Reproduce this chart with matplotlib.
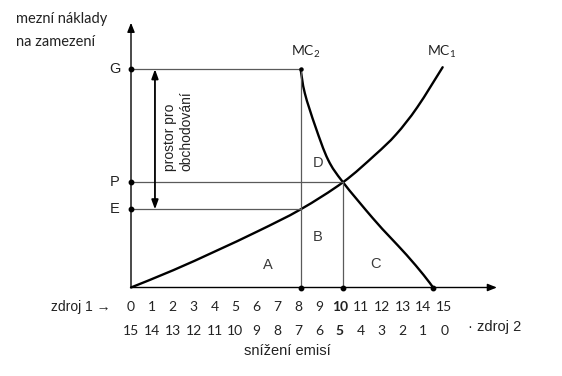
import matplotlib
matplotlib.use("Agg")
import matplotlib.pyplot as plt
from matplotlib.path import Path
from matplotlib.patches import PathPatch

# ---- data ----
mc1_x = [0, 2, 4, 6, 8, 10, 11.5, 12.5, 13.5, 14.7]
mc1_y = [0, 0.8, 1.68, 2.6, 3.6, 4.85, 6.1, 7.05, 8.3, 10.15]
mc2_x = [8, 8.2, 8.7, 9.3, 10, 11.4, 12.2, 13.0, 13.8, 14.25]
mc2_y = [10.06, 8.95, 7.41, 5.88, 4.85, 3.2, 2.34, 1.5, 0.58, 0]
level_names = ["G", "P", "E"]
level_values = [10.06, 4.85, 3.6]
q_split = 8      # emissions reduction of source 1 with equal caps
q_eq = 10        # equilibrium reduction of source 1
src1_ticks = list(range(0, 16))
src2_ticks = list(range(15, -1, -1))
area_labels = ["A", "B", "C", "D"]

plt.rcParams['mathtext.fontset'] = 'custom'
plt.rcParams['mathtext.rm'] = 'Lato'
plt.rcParams['mathtext.it'] = 'Lato'


def smooth_path(xs, ys):
    """Catmull-Rom through the read points, drawn as cubic Bezier segments."""
    pts = list(zip(xs, ys))
    verts = [pts[0]]
    codes = [Path.MOVETO]
    n = len(pts)
    for i in range(n - 1):
        p0 = pts[i - 1] if i > 0 else pts[i]
        p1 = pts[i]
        p2 = pts[i + 1]
        p3 = pts[i + 2] if i + 2 < n else pts[i + 1]
        c1 = (p1[0] + (p2[0] - p0[0]) / 6, p1[1] + (p2[1] - p0[1]) / 6)
        c2 = (p2[0] - (p3[0] - p1[0]) / 6, p2[1] - (p3[1] - p1[1]) / 6)
        verts += [c1, c2, p2]
        codes += [Path.CURVE4] * 3
    return Path(verts, codes)


fig = plt.figure(figsize=(5.62, 3.76), dpi=100)
ax = fig.add_axes([0, 0, 1, 1])
ax.set_xlim(-131 / 21.2, (562 - 131) / 21.2)
ax.set_ylim((287.5 - 376) / 21.7, 287.5 / 21.7)
ax.axis("off")

G, P, E = level_values
grey = "#5a5a5a"
txt = "#222222"
arial = "Liberation Sans"
calib = "Lato"

# axes with arrows
ax.annotate("", xy=(0, 12.2), xytext=(0, 0),
            arrowprops=dict(arrowstyle="-|>,head_length=0.55,head_width=0.22",
                            color="black", lw=1.0, shrinkA=0, shrinkB=0))
ax.annotate("", xy=(17.26, 0), xytext=(0, 0),
            arrowprops=dict(arrowstyle="-|>,head_length=0.55,head_width=0.22",
                            color="black", lw=1.0, shrinkA=0, shrinkB=0))

# guide lines
ax.plot([0, q_split], [G, G], color=grey, lw=0.9)
ax.plot([0, q_eq], [P, P], color=grey, lw=0.9)
ax.plot([0, q_split], [E, E], color=grey, lw=0.9)
ax.plot([q_split, q_split], [0, G], color=grey, lw=0.9)
ax.plot([q_eq, q_eq], [0, P], color=grey, lw=0.9)

# curves
for xs, ys in [(mc1_x, mc1_y), (mc2_x, mc2_y)]:
    ax.add_patch(PathPatch(smooth_path(xs, ys), facecolor="none",
                           edgecolor="black", lw=1.7, capstyle="round"))

# dots
ax.plot([0, 0, 0], level_values, "o", color="black", ms=3.2)
ax.plot([q_split, q_eq, mc2_x[-1]], [0, 0, 0], "o", color="black", ms=3.2)
ax.plot([q_split], [G], "o", color="black", ms=2.2)

# level labels
for name, v in zip(level_names, level_values):
    ax.text(-0.75, v, name, ha="center", va="center", fontsize=10.5,
            family=arial, color=txt)

# double arrow "prostor pro obchodovani"
ax.annotate("", xy=(1.13, G), xytext=(1.13, E),
            arrowprops=dict(arrowstyle="<|-|>,head_length=0.55,head_width=0.2",
                            color="black", lw=1.3, shrinkA=0, shrinkB=0))
ax.text(2.22, 7.21, "prostor pro\nobchodování", rotation=90, ha="center",
        va="center", multialignment="left", fontsize=10, family=arial,
        color=txt, linespacing=1.25)

# area labels
for lab, (x, y) in zip(area_labels, [(6.46, 1.04), (8.81, 2.34),
                                      (11.51, 1.07), (8.81, 5.72)]):
    ax.text(x, y, lab, ha="center", va="center", fontsize=10.5,
            family=arial, color="#3a3a3a")

# curve labels
ax.text(8.25, 10.85, "MC$_2$", ha="center", va="center", fontsize=10,
        family=calib, color=txt)
ax.text(14.67, 10.85, "MC$_1$", ha="center", va="center", fontsize=10,
        family=calib, color=txt)

# y-axis title
ax.text(-5.42, 12.37, "mezní náklady", ha="left", va="center", fontsize=10.5,
        family=calib, color=txt)
ax.text(-5.42, 11.31, "na zamezení", ha="left", va="center", fontsize=10.5,
        family=calib, color=txt)

# tick labels for both sources
for i, (a, b) in enumerate(zip(src1_ticks, src2_ticks)):
    w = "bold" if a == q_eq else "normal"
    ax.text(i * 0.985, -0.90, str(a), ha="center", va="center", fontsize=10,
            family=calib, color=txt, weight=w)
    ax.text(i * 0.985, -2.0, str(b), ha="center", va="center", fontsize=10,
            family=calib, color=txt, weight=w)

ax.text(-2.36, -0.90, "zdroj 1 →", ha="center", va="center", fontsize=10,
        family=arial, color=txt)
ax.text(17.17, -1.82, "· zdroj 2", ha="center", va="center", fontsize=10.5,
        family=arial, color=txt)
ax.text(7.36, -2.91, "snížení emisí", ha="center", va="center", fontsize=10.5,
        family=arial, color=txt)

fig.savefig("out.png", dpi=100, facecolor="white")
